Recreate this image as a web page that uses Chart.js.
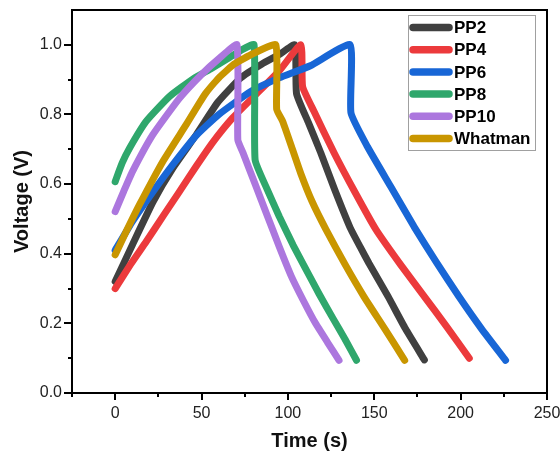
<!DOCTYPE html>
<html>
<head>
<meta charset="utf-8">
<script src="https://cdn.jsdelivr.net/npm/chart.js@4.4.1/dist/chart.umd.min.js"></script>
<style>
    html, body { margin: 0; padding: 0; background: #fff; }
    #wrap { width: 560px; height: 454px; }
</style>
</head>
<body>
<div id="wrap"><canvas id="gcd-chart" width="560" height="454"></canvas></div>
<script>
    // Series names, in legend order.
    var seriesNames = ['PP2', 'PP4', 'PP6', 'PP8', 'PP10', 'Whatman'];

    // Time (s) / voltage (V), one pair per sample.
    var pp2Time = [0, 10, 22, 33.4, 47, 59.4, 72.7, 85, 95, 104, 105, 112, 119, 127, 136, 142, 147, 158, 168, 179];
    var pp2Volt = [0.32, 0.426, 0.55, 0.646, 0.742, 0.835, 0.905, 0.945, 0.972, 1.0, 0.86, 0.775, 0.69, 0.585, 0.475, 0.418, 0.372, 0.277, 0.185, 0.095];

    var pp4Time = [0, 9, 18, 28, 37.3, 47, 56.5, 68, 81, 95, 107.5, 108.5, 115, 126.7, 139, 151, 165, 179, 192, 205];
    var pp4Volt = [0.30, 0.37, 0.435, 0.51, 0.579, 0.652, 0.72, 0.79, 0.855, 0.925, 1.0, 0.88, 0.81, 0.69, 0.575, 0.469, 0.37, 0.277, 0.19, 0.10];

    var pp6Time = [0, 10, 22, 33.4, 47, 60, 78.5, 95, 113, 136, 136.5, 146, 159.5, 173, 186, 199, 212, 226];
    var pp6Volt = [0.41, 0.493, 0.579, 0.656, 0.74, 0.80, 0.866, 0.905, 0.94, 1.0, 0.805, 0.708, 0.593, 0.478, 0.375, 0.277, 0.185, 0.094];

    var pp8Time = [0, 4, 8.3, 17.9, 31.5, 46, 55, 65, 73, 80.4, 81, 88, 95, 103, 111, 118, 126, 133, 139.7];
    var pp8Volt = [0.607, 0.66, 0.703, 0.78, 0.852, 0.905, 0.93, 0.96, 0.985, 1.0, 0.67, 0.585, 0.507, 0.425, 0.35, 0.285, 0.215, 0.155, 0.094];

    var pp10Time = [0, 5, 10, 21.8, 37.3, 50, 60, 70.5, 71, 74, 81, 88, 95, 102, 109, 116, 123, 129.6];
    var pp10Volt = [0.521, 0.58, 0.636, 0.742, 0.847, 0.915, 0.96, 1.0, 0.727, 0.69, 0.6, 0.51, 0.42, 0.335, 0.265, 0.2, 0.145, 0.094];

    var whatmanTime = [0, 7, 14, 27.6, 41, 51.7, 60, 69, 80, 93, 93.5, 97, 102.7, 107.5, 114, 122, 133, 144, 156, 167.6];
    var whatmanVolt = [0.397, 0.47, 0.54, 0.665, 0.77, 0.856, 0.905, 0.945, 0.975, 1.0, 0.815, 0.78, 0.699, 0.63, 0.55, 0.47, 0.37, 0.277, 0.185, 0.094];

    // Axis ticks.
    var xTicks = [0, 50, 100, 150, 200, 250];
    var xMinorTicks = [-25, 25, 75, 125, 175, 225];
    var yTicks = [0, 0.2, 0.4, 0.6, 0.8, 1.0];
    var yMinorTicks = [0.1, 0.3, 0.5, 0.7, 0.9];

    var seriesColors = ['#404040', '#ec3a3c', '#1866d6', '#2fa76c', '#ac77de', '#c99600'];
    var FONT = '"Liberation Sans", Arial, sans-serif';

    function toPoints(times, volts) {
        return times.map(function(t, i) {
            return { x: t, y: volts[i] };
        });
    }

    var seriesData = [
        toPoints(pp2Time, pp2Volt),
        toPoints(pp4Time, pp4Volt),
        toPoints(pp6Time, pp6Volt),
        toPoints(pp8Time, pp8Volt),
        toPoints(pp10Time, pp10Volt),
        toPoints(whatmanTime, whatmanVolt)
    ];

    /**
     * Frame round the plot, plus major and minor tick marks.
     */
    var framePlugin = {
        id: 'frame',
        afterDraw: function(chart) {
            var ctx = chart.ctx;
            var a = chart.chartArea;
            var xs = chart.scales.x;
            var ys = chart.scales.y;

            ctx.save();
            ctx.strokeStyle = '#000';
            ctx.lineWidth = 2;
            ctx.strokeRect(a.left, a.top, a.right - a.left, a.bottom - a.top);

            ctx.beginPath();
            xTicks.forEach(function(v) {
                var px = Math.round(xs.getPixelForValue(v));
                ctx.moveTo(px, a.bottom);
                ctx.lineTo(px, a.bottom + 7);
            });
            xMinorTicks.forEach(function(v) {
                var px = Math.round(xs.getPixelForValue(v));
                ctx.moveTo(px, a.bottom);
                ctx.lineTo(px, a.bottom + 4);
            });
            yTicks.forEach(function(v) {
                var py = Math.round(ys.getPixelForValue(v));
                ctx.moveTo(a.left, py);
                ctx.lineTo(a.left - 8, py);
            });
            yMinorTicks.forEach(function(v) {
                var py = Math.round(ys.getPixelForValue(v));
                ctx.moveTo(a.left, py);
                ctx.lineTo(a.left - 4, py);
            });
            ctx.stroke();
            ctx.restore();
        }
    };

    /**
     * Boxed legend in the top right corner of the plot.
     */
    var legendPlugin = {
        id: 'boxLegend',
        afterDraw: function(chart) {
            var ctx = chart.ctx;
            var box = { left: 408, top: 15, right: 535, bottom: 150 };

            ctx.save();
            ctx.strokeStyle = '#a0a0a0';
            ctx.lineWidth = 1;
            ctx.strokeRect(box.left + 0.5, box.top + 0.5, box.right - box.left, box.bottom - box.top);

            ctx.font = 'bold 17px ' + FONT;
            ctx.textBaseline = 'middle';
            ctx.fillStyle = '#000';
            seriesNames.forEach(function(name, i) {
                var y = 27.5 + i * 22.2;
                ctx.strokeStyle = seriesColors[i];
                ctx.lineWidth = 7.5;
                ctx.lineCap = 'round';
                ctx.beginPath();
                ctx.moveTo(413, y);
                ctx.lineTo(449, y);
                ctx.stroke();
                ctx.fillText(name, 454, y + 1);
            });
            ctx.restore();
        }
    };

    function initChart() {
        var canvas = document.getElementById('gcd-chart');
        var ctx = canvas.getContext('2d');

        var datasets = seriesNames.map(function(name, i) {
            return {
                label: name,
                data: seriesData[i],
                borderColor: seriesColors[i],
                backgroundColor: seriesColors[i],
                borderWidth: 7,
                borderCapStyle: 'round',
                borderJoinStyle: 'round',
                showLine: true,
                pointRadius: 0,
                tension: 0.15,
                order: seriesNames.length - i
            };
        });

        new Chart(ctx, {
            type: 'scatter',
            data: { datasets: datasets },
            options: {
                responsive: false,
                animation: false,
                devicePixelRatio: 1,
                layout: { padding: { top: 10, right: 13, left: 0, bottom: 0 } },
                plugins: {
                    legend: { display: false },
                    tooltip: { enabled: false }
                },
                scales: {
                    x: {
                        type: 'linear',
                        min: -25,
                        max: 250,
                        afterBuildTicks: function(scale) {
                            scale.ticks = xTicks.map(function(v) { return { value: v }; });
                        },
                        afterFit: function(scale) {
                            scale.height = 61;
                            scale.paddingLeft = 0;
                            scale.paddingRight = 0;
                        },
                        grid: { display: false, drawTicks: false },
                        border: { display: false },
                        ticks: {
                            padding: 11,
                            color: '#222',
                            font: { family: FONT, size: 16 },
                            maxRotation: 0
                        },
                        title: {
                            display: true,
                            text: 'Time (s)',
                            color: '#111',
                            font: { family: FONT, size: 20, weight: 'bold' },
                            padding: 1
                        }
                    },
                    y: {
                        type: 'linear',
                        min: 0,
                        max: 1.1,
                        afterBuildTicks: function(scale) {
                            scale.ticks = yTicks.map(function(v) { return { value: v }; });
                        },
                        afterFit: function(scale) {
                            scale.width = 72;
                            scale.paddingTop = 0;
                            scale.paddingBottom = 0;
                        },
                        grid: { display: false, drawTicks: false },
                        border: { display: false },
                        ticks: {
                            padding: 10,
                            color: '#222',
                            font: { family: FONT, size: 16 },
                            callback: function(v) { return v.toFixed(1); }
                        },
                        title: {
                            display: true,
                            text: 'Voltage (V)',
                            color: '#111',
                            font: { family: FONT, size: 20, weight: 'bold' },
                            padding: 10
                        }
                    }
                }
            },
            plugins: [framePlugin, legendPlugin]
        });
    }

    initChart();
</script>
</body>
</html>
